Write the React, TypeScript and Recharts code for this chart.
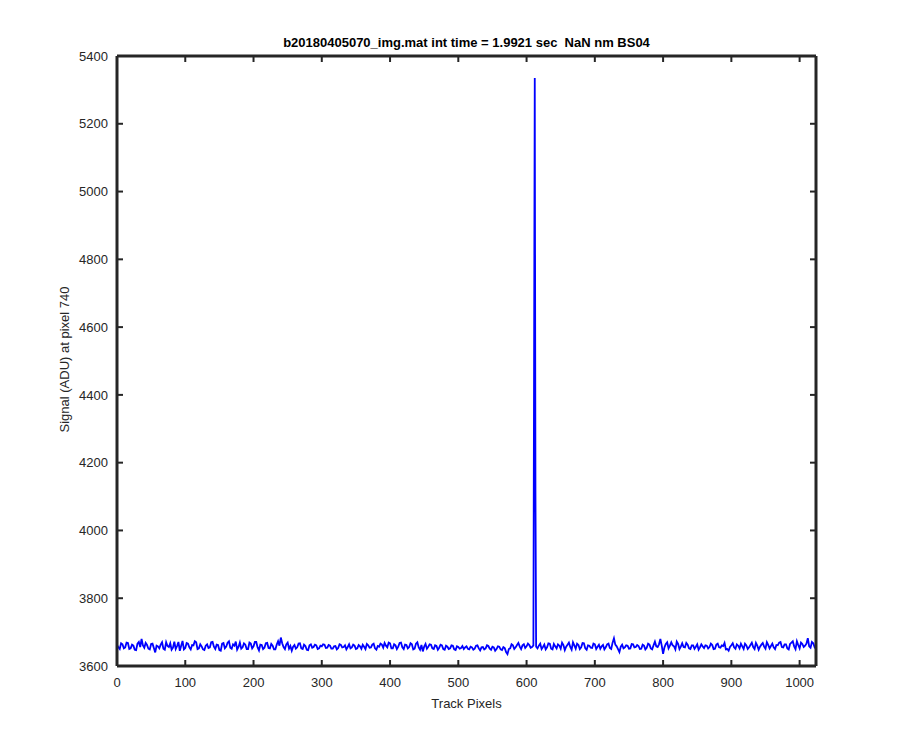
import React from 'react';
import { LineChart, Line, XAxis, YAxis } from 'recharts';

// Baseline signal sampled every 2 track pixels (x = 0, 2, 4, ... 1024)
const baselineStep = 2;
const baselineSignal: number[] = [
  3662, 3655, 3650, 3667, 3664, 3652, 3655, 3669, 3668, 3650, 3652, 3663, 3660, 3648, 3647, 3666,
  3671, 3656, 3680, 3661, 3654, 3668, 3662, 3651, 3649, 3665, 3666, 3653, 3640, 3660, 3658, 3652,
  3663, 3670, 3651, 3648, 3670, 3659, 3656, 3667, 3648, 3654, 3672, 3650, 3659, 3671, 3645, 3660,
  3674, 3649, 3653, 3668, 3666, 3655, 3649, 3662, 3661, 3673, 3670, 3650, 3652, 3664, 3658, 3649,
  3647, 3660, 3664, 3653, 3655, 3670, 3671, 3657, 3650, 3663, 3662, 3647, 3645, 3666, 3668, 3652,
  3657, 3669, 3673, 3654, 3651, 3664, 3660, 3672, 3648, 3656, 3669, 3651, 3655, 3667, 3663, 3650,
  3650, 3669, 3666, 3652, 3658, 3671, 3671, 3655, 3646, 3663, 3662, 3650, 3654, 3667, 3668, 3653,
  3652, 3665, 3660, 3649, 3649, 3663, 3673, 3660, 3684, 3667, 3656, 3650, 3664, 3669, 3651, 3659,
  3645, 3657, 3662, 3651, 3655, 3666, 3667, 3652, 3650, 3663, 3659, 3648, 3647, 3661, 3664, 3654,
  3656, 3663, 3661, 3650, 3652, 3660, 3658, 3664, 3663, 3653, 3654, 3662, 3660, 3651, 3651, 3658,
  3659, 3649, 3653, 3664, 3662, 3655, 3656, 3661, 3649, 3656, 3664, 3652, 3655, 3663, 3660, 3650,
  3652, 3662, 3658, 3651, 3663, 3657, 3650, 3665, 3661, 3654, 3655, 3663, 3666, 3652, 3648, 3659,
  3657, 3666, 3663, 3654, 3668, 3660, 3655, 3669, 3667, 3652, 3652, 3664, 3661, 3650, 3657, 3668,
  3669, 3655, 3650, 3663, 3662, 3652, 3656, 3667, 3664, 3649, 3651, 3666, 3670, 3655, 3648, 3662,
  3643, 3657, 3665, 3651, 3657, 3664, 3663, 3652, 3650, 3661, 3659, 3648, 3654, 3663, 3661, 3650,
  3648, 3660, 3657, 3650, 3652, 3661, 3660, 3649, 3647, 3658, 3656, 3651, 3653, 3659, 3650, 3655,
  3658, 3651, 3649, 3657, 3655, 3648, 3651, 3660, 3661, 3652, 3646, 3655, 3656, 3649, 3652, 3661,
  3659, 3651, 3648, 3657, 3655, 3645, 3650, 3658, 3657, 3649, 3647, 3656, 3653, 3641, 3635, 3650,
  3652, 3664, 3661, 3650, 3655, 3662, 3668, 3657, 3650, 3661, 3664, 3653, 3658, 3666, 3662, 3654,
  3656, 3660, 3658, 3657, 3652, 3660, 3666, 3650, 3656, 3663, 3649, 3655, 3667, 3666, 3651, 3649,
  3665, 3658, 3652, 3664, 3660, 3651, 3669, 3662, 3647, 3657, 3663, 3669, 3656, 3648, 3670, 3661,
  3651, 3666, 3662, 3650, 3655, 3668, 3667, 3652, 3648, 3661, 3660, 3654, 3653, 3666, 3664, 3650,
  3657, 3663, 3651, 3658, 3662, 3649, 3655, 3664, 3666, 3653, 3650, 3669, 3682, 3663, 3658, 3650,
  3641, 3657, 3663, 3652, 3655, 3661, 3660, 3651, 3652, 3665, 3664, 3655, 3656, 3662, 3659, 3650,
  3651, 3663, 3660, 3649, 3654, 3666, 3663, 3652, 3649, 3661, 3672, 3658, 3656, 3664, 3680, 3660,
  3636, 3655, 3665, 3670, 3652, 3660, 3670, 3661, 3658, 3649, 3672, 3665, 3650, 3657, 3667, 3656,
  3655, 3668, 3663, 3652, 3650, 3661, 3661, 3651, 3657, 3664, 3648, 3655, 3664, 3658, 3653, 3661,
  3660, 3652, 3656, 3666, 3662, 3650, 3651, 3663, 3666, 3655, 3654, 3661, 3659, 3668, 3649, 3650,
  3645, 3656, 3661, 3667, 3655, 3651, 3664, 3660, 3652, 3666, 3658, 3650, 3666, 3661, 3650, 3655,
  3662, 3669, 3656, 3650, 3668, 3660, 3648, 3657, 3663, 3668, 3657, 3651, 3670, 3662, 3652, 3659,
  3666, 3655, 3650, 3662, 3661, 3669, 3671, 3656, 3655, 3664, 3664, 3652, 3649, 3665, 3669, 3673,
  3658, 3650, 3673, 3662, 3652, 3669, 3665, 3656, 3660, 3666, 3682, 3658, 3654, 3671, 3667, 3655,
  3650,
];

// Spike around track pixel 611-613
const spikePixels: number[] = [610, 611, 612, 613, 614];
const spikeSignal: number[] = [3661, 4497, 5335, 4120, 3657];

const xTicks: number[] = [0, 100, 200, 300, 400, 500, 600, 700, 800, 900, 1000];
const yTicks: number[] = [3600, 3800, 4000, 4200, 4400, 4600, 4800, 5000, 5200, 5400];

const titleText = 'b20180405070_img.mat int time = 1.9921 sec  NaN nm BS04';
const xLabelText = 'Track Pixels';
const yLabelText = 'Signal (ADU) at pixel 740';

const spikeMin = Math.min(...spikePixels);
const spikeMax = Math.max(...spikePixels);
const data = [
  ...baselineSignal
    .map((v, i) => ({ x: i * baselineStep, y: v }))
    .filter((p) => p.x < spikeMin || p.x > spikeMax),
  ...spikePixels.map((x, i) => ({ x, y: spikeSignal[i] })),
].sort((a, b) => a.x - b.x);

const axisColor = '#262626';
const font = '"Liberation Sans", Arial, Helvetica, sans-serif';
const tickStyle = { fontSize: 13, fill: axisColor, fontFamily: font };
const axisLineStyle = { stroke: axisColor, strokeWidth: 3 };
const tickLineStyle = { stroke: axisColor, strokeWidth: 2 };

export default function App() {
  return (
    <div style={{ position: 'absolute', left: 0, top: 0, width: 900, height: 750, background: '#fff' }}>
      <LineChart
        width={900}
        height={750}
        data={data}
        margin={{ top: 55, right: 83, bottom: 54, left: 57 }}
      >
        <XAxis
          xAxisId="bottom"
          dataKey="x"
          type="number"
          domain={[0, 1024]}
          ticks={xTicks}
          allowDataOverflow
          height={30}
          axisLine={axisLineStyle}
          tickSize={-6}
          tickMargin={18}
          tick={tickStyle}
          tickLine={tickLineStyle}
        />
        <XAxis
          xAxisId="top"
          orientation="top"
          dataKey="x"
          type="number"
          domain={[0, 1024]}
          ticks={xTicks}
          allowDataOverflow
          height={1}
          axisLine={axisLineStyle}
          tickSize={-6}
          tickFormatter={() => ''}
          tickLine={tickLineStyle}
        />
        <YAxis
          yAxisId="left"
          type="number"
          domain={[3600, 5400]}
          ticks={yTicks}
          allowDataOverflow
          width={60}
          axisLine={axisLineStyle}
          tickSize={-6}
          tickMargin={15}
          tick={tickStyle}
          tickLine={tickLineStyle}
        />
        <YAxis
          yAxisId="right"
          orientation="right"
          type="number"
          domain={[3600, 5400]}
          ticks={yTicks}
          allowDataOverflow
          width={1}
          axisLine={axisLineStyle}
          tickSize={-6}
          tickFormatter={() => ''}
          tickLine={tickLineStyle}
        />
        <Line
          xAxisId="bottom"
          yAxisId="left"
          type="linear"
          dataKey="y"
          stroke="#0000ff"
          strokeWidth={1.8}
          dot={false}
          isAnimationActive={false}
        />
      </LineChart>
      <div
        style={{
          position: 'absolute',
          left: 117,
          width: 699,
          top: 35,
          textAlign: 'center',
          fontFamily: font,
          fontWeight: 'bold',
          fontSize: 13,
          color: '#000',
          whiteSpace: 'pre',
        }}
      >
        {titleText}
      </div>
      <div
        style={{
          position: 'absolute',
          left: 117,
          width: 699,
          top: 696,
          textAlign: 'center',
          fontFamily: font,
          fontSize: 13,
          color: axisColor,
        }}
      >
        {xLabelText}
      </div>
      <div
        style={{
          position: 'absolute',
          left: 64 - 150,
          top: 361 - 9,
          width: 300,
          textAlign: 'center',
          fontFamily: font,
          fontSize: 13,
          color: axisColor,
          transform: 'rotate(-90deg)',
        }}
      >
        {yLabelText}
      </div>
    </div>
  );
}
